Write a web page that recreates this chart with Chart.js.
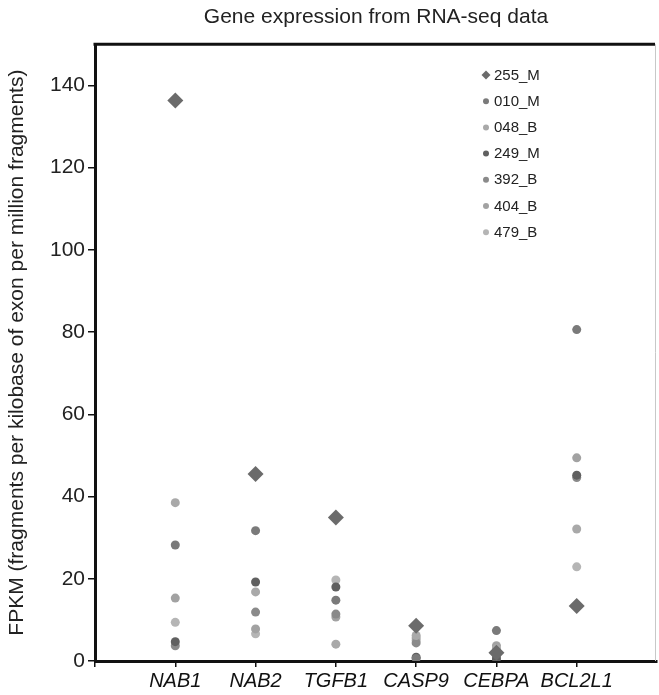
<!DOCTYPE html>
<html>
<head>
<style>
  body { margin: 0; background: #fff; }
  #wrap { width: 659px; height: 695px; }
</style>
</head>
<body>
<div id="wrap"><canvas id="myChart" width="659" height="695"></canvas></div>
<script src="https://cdn.jsdelivr.net/npm/chart.js@4.4.1/dist/chart.umd.min.js"></script>
<script>
    // genes along the x axis (placed at 1..6)
    const genes = ['NAB1', 'NAB2', 'TGFB1', 'CASP9', 'CEBPA', 'BCL2L1']
    const yTicks = [0, 20, 40, 60, 80, 100, 120, 140]

    // FPKM per sample, one value per gene
    const s255_M = [136.3, 45.5, 34.9, 8.6, 2.0, 13.4]
    const s010_M = [28.2, 31.7, 14.8, 0.6, 7.4, 80.6]
    const s048_B = [38.5, 16.8, 4.1, 6.2, 3.0, 32.1]
    const s249_M = [4.7, 19.2, 18.0, 0.9, 0.5, 45.2]
    const s392_B = [3.7, 11.9, 11.4, 4.4, 1.0, 44.6]
    const s404_B = [15.3, 7.8, 10.7, 5.6, 3.7, 49.4]
    const s479_B = [9.4, 6.6, 19.7, 5.0, 1.5, 22.9]

    const samples = [
        { label: '255_M', values: s255_M, color: '#6b6b6b', style: 'rectRot' },
        { label: '010_M', values: s010_M, color: '#7a7a7a', style: 'circle' },
        { label: '048_B', values: s048_B, color: '#a9a9a9', style: 'circle' },
        { label: '249_M', values: s249_M, color: '#606060', style: 'circle' },
        { label: '392_B', values: s392_B, color: '#8a8a8a', style: 'circle' },
        { label: '404_B', values: s404_B, color: '#a2a2a2', style: 'circle' },
        { label: '479_B', values: s479_B, color: '#b5b5b5', style: 'circle' }
    ]

    const font = '"Liberation Sans", Arial, Helvetica, sans-serif'

    // frame: top border thick black, right edge thin gray
    const framePlugin = {
        id: 'frame',
        afterDraw(chart) {
            const { ctx, chartArea: a } = chart
            ctx.save()
            ctx.strokeStyle = '#111'
            ctx.lineWidth = 3
            ctx.beginPath()
            ctx.moveTo(a.left - 1.5, a.top)
            ctx.lineTo(a.right - 2, a.top)
            ctx.stroke()
            ctx.strokeStyle = '#c8c8c8'
            ctx.lineWidth = 1
            ctx.beginPath()
            ctx.moveTo(a.right - 1.5, a.top)
            ctx.lineTo(a.right - 1.5, a.bottom)
            ctx.stroke()
            ctx.restore()
        }
    }

    // legend drawn in the top right corner of the plot
    const legendPlugin = {
        id: 'cornerLegend',
        afterDraw(chart) {
            const ctx = chart.ctx
            ctx.save()
            ctx.font = '15px ' + font
            ctx.textBaseline = 'middle'
            chart.data.datasets.forEach((ds, i) => {
                const y = 75 + i * 26.2
                const x = 486
                ctx.fillStyle = ds.backgroundColor
                ctx.beginPath()
                if (ds.pointStyle === 'rectRot') {
                    ctx.moveTo(x, y - 4.5)
                    ctx.lineTo(x + 4.5, y)
                    ctx.lineTo(x, y + 4.5)
                    ctx.lineTo(x - 4.5, y)
                    ctx.closePath()
                } else {
                    ctx.arc(x, y, 3, 0, Math.PI * 2)
                }
                ctx.fill()
                ctx.fillStyle = '#222'
                ctx.fillText(ds.label, x + 8, y + 0.5)
            })
            ctx.restore()
        }
    }

    const ctx = document.getElementById('myChart')
    const myChart = new Chart(ctx, {
        type: 'scatter',
        data: {
            datasets: samples.map(s => ({
                label: s.label,
                data: s.values.map((v, i) => ({ x: i + 1, y: v })),
                backgroundColor: s.color,
                borderWidth: 0,
                pointStyle: s.style,
                pointRadius: s.style === 'rectRot' ? 8 : 4.5
            }))
        },
        options: {
            responsive: false,
            animation: false,
            layout: { padding: 0, autoPadding: false },
            plugins: {
                legend: { display: false },
                tooltip: { enabled: false },
                title: {
                    display: true,
                    text: 'Gene expression from RNA-seq data',
                    fullSize: false,
                    color: '#222',
                    font: { family: font, size: 21, weight: 'normal' },
                    padding: { top: 5, bottom: 14 }
                }
            },
            scales: {
                x: {
                    type: 'linear',
                    min: 0,
                    max: 7,
                    afterBuildTicks: axis => {
                        axis.ticks = [0, 1, 2, 3, 4, 5, 6, 7].map(v => ({ value: v }))
                    },
                    afterFit: axis => { axis.height = 34 },
                    border: { color: '#111', width: 3 },
                    grid: {
                        drawOnChartArea: false,
                        tickLength: 6,
                        lineWidth: 1.5,
                        color: c => (c.tick && c.tick.value === 7) ? 'rgba(0,0,0,0)' : '#111'
                    },
                    ticks: {
                        autoSkip: false,
                        maxRotation: 0,
                        padding: 2,
                        color: '#111',
                        font: { family: font, size: 20, style: 'italic' },
                        callback: v => genes[v - 1] || ''
                    }
                },
                y: {
                    min: 0,
                    max: 150,
                    afterBuildTicks: axis => {
                        axis.ticks = yTicks.map(v => ({ value: v }))
                    },
                    afterFit: axis => { axis.width = 95 },
                    border: { color: '#111', width: 3 },
                    grid: { drawOnChartArea: false, tickLength: 7, color: '#111', lineWidth: 1.5 },
                    ticks: {
                        padding: 3,
                        color: '#222',
                        font: { family: font, size: 21 }
                    },
                    title: {
                        display: true,
                        text: 'FPKM (fragments per kilobase of exon per million fragments)',
                        color: '#222',
                        font: { family: font, size: 21 },
                        padding: { top: 5, bottom: 0 }
                    }
                }
            }
        },
        plugins: [framePlugin, legendPlugin]
    })
</script>
</body>
</html>
